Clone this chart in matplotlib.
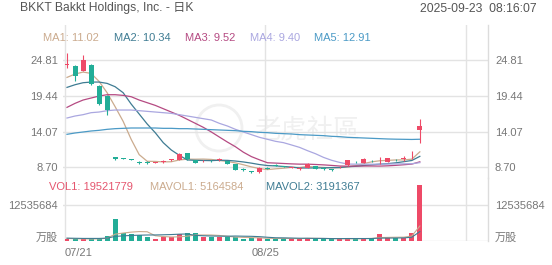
import numpy as np
import matplotlib
matplotlib.use('Agg')
import matplotlib.pyplot as plt
from matplotlib.patches import Ellipse

plt.rcParams['font.family'] = ['Liberation Sans', 'Noto Sans CJK SC']
plt.rcParams['font.size'] = 8

# Daily bars, 07/21 .. 09/22
opens = [24.0, 23.9, 23.2, 24.1, 20.9, 19.4, 10.2, 10.0, 9.9, 9.4, 9.45, 9.35, 9.5, 9.8, 9.86,
         10.8, 9.76, 9.62, 9.7, 9.82, 9.66, 9.2, 8.5, 8.05, 7.95, 8.65, 9.0, 8.9, 8.6, 8.5,
         8.65, 8.87, 8.65, 8.38, 8.7, 9.0, 9.55, 9.35, 9.7, 9.45, 9.5, 9.8, 10.0, 10.05, 14.3]
highs = [25.8, 24.0, 25.5, 24.25, 21.1, 19.5, 10.25, 10.05, 9.95, 9.6, 9.6, 9.5, 9.75, 10.0, 10.8,
         10.85, 9.8, 9.75, 9.75, 10.05, 9.7, 9.25, 8.55, 8.2, 8.7, 8.7, 9.15, 8.95, 8.7, 8.7,
         9.3, 8.9, 8.7, 8.5, 8.85, 9.8, 9.6, 10.05, 9.75, 10.26, 10.15, 9.95, 10.4, 11.2, 16.0]
lows = [23.6, 21.6, 23.2, 21.0, 18.0, 16.6, 9.85, 9.9, 9.75, 9.2, 9.25, 9.3, 9.4, 9.7, 9.8,
        9.8, 9.3, 9.55, 9.55, 9.7, 9.2, 8.25, 8.2, 7.85, 7.9, 8.4, 8.85, 8.7, 8.55, 8.35,
        8.6, 8.45, 8.35, 8.2, 8.65, 8.95, 9.4, 9.3, 9.55, 9.26, 9.45, 9.6, 9.65, 10.0, 12.3]
closes = [24.2, 22.4, 24.85, 21.2, 18.2, 17.3, 9.9, 9.95, 9.8, 9.35, 9.4, 9.42, 9.6, 9.87, 10.7,
          10.0, 9.4, 9.66, 9.62, 9.9, 9.25, 8.35, 8.3, 8.0, 8.65, 8.45, 8.95, 8.75, 8.65, 8.52,
          9.26, 8.5, 8.4, 8.33, 8.78, 9.76, 9.45, 10.0, 9.62, 9.55, 10.1, 9.74, 10.05, 10.15, 14.85]
volumes = [600000, 500000, 600000, 600000, 900000, 1750000, 7600000, 2600000, 2200000, 1900000,
           1400000, 600000, 1200000, 1400000, 2200000, 2600000, 2600000, 1200000, 1400000, 1400000,
           1200000, 1200000, 600000, 1000000, 1000000, 500000, 800000, 800000, 800000, 800000,
           1000000, 800000, 500000, 500000, 800000, 800000, 800000, 800000, 800000, 2300000,
           1100000, 1100000, 900000, 2800000, 19521779]

# moving averages as drawn
ma1 = [22.2, 22.7, 23.0, 22.8, 21.6, 19.9, 17.8, 15.6, 12.9, 10.6, 9.6, 9.58, 9.51, 9.53, 9.8,
       9.92, 9.91, 9.93, 9.88, 9.72, 9.57, 9.36, 9.08, 8.76, 8.51, 8.35, 8.47, 8.56, 8.69, 8.66,
       8.83, 8.74, 8.67, 8.6, 8.65, 8.75, 8.94, 9.26, 9.52, 9.68, 9.74, 9.8, 9.81, 9.92, 11.02]
ma2 = [20.7, 21.1, 21.4, 21.5, 21.5, 21.3, 20.8, 19.9, 18.2, 16.7, 15.2, 13.9, 12.4, 11.3, 10.5,
       9.8, 9.75, 9.72, 9.7, 9.76, 9.74, 9.64, 9.5, 9.32, 9.11, 8.96, 8.91, 8.82, 8.73, 8.59,
       8.59, 8.6, 8.61, 8.65, 8.66, 8.79, 8.84, 8.97, 9.06, 9.17, 9.25, 9.37, 9.54, 9.72, 10.34]
ma3 = [17.7, 18.3, 18.8, 19.1, 19.4, 19.6, 19.6, 19.5, 19.3, 18.8, 18.4, 18.0, 17.5, 17.0, 16.5,
       15.9, 15.3, 14.7, 14.0, 13.24, 12.49, 11.79, 10.96, 10.3, 9.82, 9.38, 9.33, 9.27, 9.21, 9.17,
       9.17, 9.12, 9.06, 8.98, 8.89, 8.87, 8.88, 8.89, 8.89, 8.88, 8.92, 8.99, 9.08, 9.18, 9.52]
ma4 = [16.1, 16.4, 16.6, 16.9, 17.0, 17.2, 17.3, 17.3, 17.3, 17.2, 17.1, 17.0, 16.9, 16.8, 16.6,
       16.4, 16.2, 16.0, 15.8, 15.3, 14.9, 14.4, 14.0, 13.6, 13.2, 12.9, 12.6, 12.4, 12.05, 11.69,
       11.19, 10.73, 10.18, 9.75, 9.43, 9.18, 9.17, 9.17, 9.16, 9.17, 9.19, 9.2, 9.22, 9.23, 9.4]
ma5 = [13.65, 13.85, 14.0, 14.15, 14.25, 14.4, 14.5, 14.55, 14.6, 14.6, 14.6, 14.6, 14.55, 14.55, 14.5,
       14.5, 14.45, 14.4, 14.35, 14.3, 14.25, 14.2, 14.1, 14.05, 13.95, 13.9, 13.8, 13.75, 13.7, 13.6,
       13.55, 13.5, 13.45, 13.35, 13.3, 13.2, 13.15, 13.1, 13.05, 13.0, 12.95, 12.92, 12.9, 12.88, 12.91]
mavol1 = [800000, 700000, 650000, 600000, 640000, 870000, 2290000, 2690000, 3010000, 3210000,
          3140000, 1740000, 1460000, 1300000, 1360000, 1600000, 2000000, 2000000, 2000000, 1840000,
          1560000, 1280000, 1160000, 1080000, 1000000, 860000, 780000, 820000, 780000, 740000,
          840000, 840000, 780000, 720000, 720000, 680000, 680000, 740000, 800000, 1100000,
          1160000, 1220000, 1240000, 1640000, 5164584]
mavol2 = [900000, 850000, 800000, 800000, 800000, 900000, 1500000, 1700000, 1850000, 1930000,
          2000000, 2020000, 2080000, 2160000, 2290000, 2370000, 1870000, 1730000, 1650000, 1600000,
          1580000, 1640000, 1580000, 1540000, 1420000, 1210000, 1030000, 990000, 930000, 870000,
          850000, 810000, 800000, 750000, 730000, 760000, 760000, 760000, 760000, 910000,
          920000, 950000, 990000, 1220000, 3191367]

ma_names = ['MA1: 11.02', 'MA2: 10.34', 'MA3: 9.52', 'MA4: 9.40', 'MA5: 12.91']
vol_names = ['VOL1: 19521779', 'MAVOL1: 5164584', 'MAVOL2: 3191367']
price_ticks = [8.70, 14.07, 19.44, 24.81]
vol_ticks = [0, 12535684]
vol_tick_labels = ['万股', '12535684']
date_labels = ['07/21', '08/25', '']
date_idx = [0, 25, 50]

RED = '#ee4a67'
GREEN = '#22ad97'
MA_COLORS = ['#cbab8e', '#3f7c93', '#b54a82', '#aaa7e0', '#4b9ac6']
GRID = '#e3e3e3'
LABEL = '#777777'

W, H = 552, 265
fx = lambda px: px / W
fy = lambda py: 1 - py / H

fig = plt.figure(figsize=(W / 100, H / 100), dpi=100)
ax = fig.add_axes([fx(63), fy(178), fx(488) - fx(63), fy(25) - fy(178)])
axv = fig.add_axes([fx(63), fy(240.7), fx(488) - fx(63), fy(178) - fy(240.7)])

x = np.arange(len(closes))
o, h, l, c = map(np.array, (opens, highs, lows, closes))
colors = np.where(c >= o, RED, GREEN)

# candles
ax.vlines(x, l, h, colors=colors, lw=0.8, zorder=3)
ax.bar(x, np.maximum(np.abs(c - o), 0.08), bottom=np.minimum(o, c), width=0.62,
       color=colors, linewidth=0, zorder=4)
for ma, col in zip([ma1, ma2, ma3, ma4, ma5], MA_COLORS):
    ax.plot(x, ma, color=col, lw=0.9, zorder=2)

# volume
axv.bar(x, volumes, width=0.62, color=colors, linewidth=0, zorder=3)
axv.plot(x, mavol1, color=MA_COLORS[0], lw=0.8, zorder=4)
axv.plot(x, mavol2, color=MA_COLORS[1], lw=0.8, zorder=4)

grid_pos = [i - 0.25 for i in date_idx]
for a in (ax, axv):
    a.set_xlim(-0.5, 52.5)
    a.set_facecolor('none')
    a.set_xticks(grid_pos)
    a.grid(True, color=GRID, lw=1.0, zorder=0)
    for s in a.spines.values():
        s.set_visible(False)
    a.spines['right'].set_visible(True)
    a.spines['right'].set_color('#dcdcdc')
    a.spines['right'].set_linewidth(1.0)

ax.set_ylim(7.09, 30.07)
axv.set_ylim(0, 22.02e6)
ax.tick_params(axis='x', length=0, labelbottom=False)
axv.set_xticklabels(date_labels)
axv.tick_params(axis='x', length=0, pad=5, labelcolor=LABEL, labelsize=8)
axv.get_xticklabels()[0].set_ha('left')

for a, ticks, labels in ((ax, price_ticks, [f'{v:.2f}' for v in price_ticks]),
                         (axv, vol_ticks, vol_tick_labels)):
    a.set_yticks(ticks)
    a.set_yticklabels(labels)
    a.tick_params(axis='y', length=0, pad=3.6, labelcolor=LABEL, labelsize=8)
    r = a.twinx()
    r.set_ylim(a.get_ylim())
    r.set_yticks(ticks)
    r.set_yticklabels(labels)
    r.tick_params(axis='y', length=0, pad=5, labelcolor=LABEL, labelsize=8)
    for s in r.spines.values():
        s.set_visible(False)
    if a is axv:
        a.get_yticklabels()[0].set_va('baseline')
        r.get_yticklabels()[0].set_va('baseline')

# header texts
fig.text(fx(20), fy(8.5), 'BKKT Bakkt Holdings, Inc. - 日K', color='#555555', va='center', fontsize=8.7)
fig.text(fx(537), fy(8.5), '2025-09-23  08:16:07', color='#555555', va='center', ha='right', fontsize=8.7)
for name, col, px in zip(ma_names, MA_COLORS, [43, 114, 185, 250, 314]):
    fig.text(fx(px), fy(38), name, color=col, va='center', fontsize=8)
for name, col, px in zip(vol_names, ['#e5566f', MA_COLORS[0], MA_COLORS[1]], [49, 150, 266]):
    fig.text(fx(px), fy(187), name, color=col, va='center', fontsize=8)

# watermark
fig.text(fx(307), fy(131), '老虎社區', color='#f0f0f0', fontsize=19, ha='center', va='center',
         family=['Noto Sans CJK TC'], zorder=-1)
fig.add_artist(Ellipse((fx(219), fy(128)), 46 / W, 46 / H, fill=False, ec='#f0f0f0', lw=2,
                       transform=fig.transFigure, zorder=-1))

fig.savefig('out.png', dpi=100, facecolor='white')
